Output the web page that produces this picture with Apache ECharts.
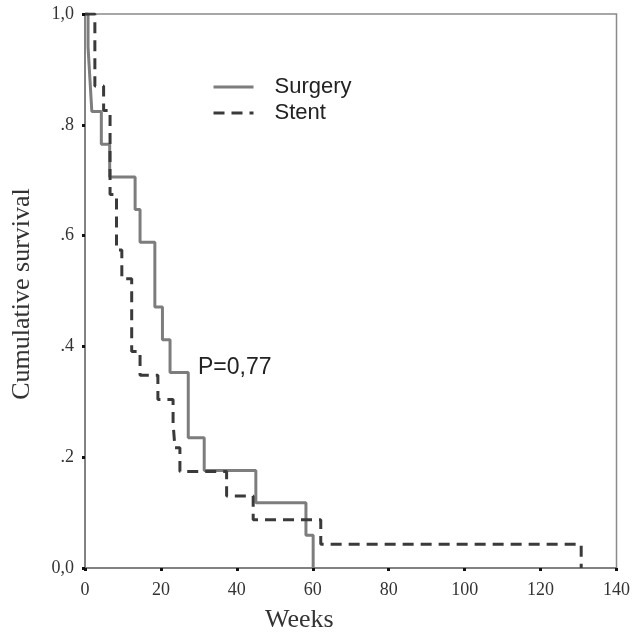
<!DOCTYPE html>
<html>
<head>
<meta charset="utf-8">
<script src="https://cdn.jsdelivr.net/npm/echarts@6/dist/echarts.min.js"></script>
<style>
  html, body { margin: 0; padding: 0; background: #fff; }
  #chart { width: 633px; height: 633px; }
</style>
</head>
<body>
<div id="chart"></div>
<script>
// Kaplan-Meier steps: [week, survival after the drop]
const surgeryWeeks = [0, 0.8, 1.3, 1.8, 4.3, 6.5, 13.2, 14.5, 18.4, 20.4, 22.4, 27.2, 31.4, 45.0, 58.2, 60.1]
const surgerySurv  = [1, 0.941, 0.882, 0.824, 0.765, 0.706, 0.647, 0.588, 0.471, 0.412, 0.353, 0.235, 0.176, 0.118, 0.059, 0]

const stentWeeks = [0, 2.6, 4.9, 6.6, 8.3, 9.7, 12.3, 14.5, 19.2, 23.2, 23.7, 25.0, 37.3, 44.3, 62.1, 130.7]
const stentSurv  = [1, 0.870, 0.826, 0.674, 0.574, 0.522, 0.391, 0.348, 0.304, 0.261, 0.217, 0.174, 0.130, 0.087, 0.043, 0]

const yTickLabels = { '0': '0,0', '0.2': '.2', '0.4': '.4', '0.6': '.6', '0.8': '.8', '1': '1,0' }

const c = echarts.init(document.getElementById('chart'))
const serif = '"Liberation Serif", "Times New Roman", serif'
const sans = '"Liberation Sans", Arial, sans-serif'

c.setOption({
  animation: false,
  grid: { left: 85, right: 16, top: 14, bottom: 65, show: true, borderColor: '#8a8a8a', borderWidth: 1.5 },
  legend: {
    orient: 'vertical', left: 207, top: 71, itemWidth: 40, itemHeight: 14, itemGap: 4,
    itemStyle: { opacity: 0 },
    lineStyle: { width: 3 },
    textStyle: { fontFamily: sans, fontSize: 22, lineHeight: 22, color: '#222', padding: [0, 0, 0, 16] },
    data: ['Surgery', 'Stent']
  },
  xAxis: {
    type: 'value', min: 0, max: 140, interval: 20,
    axisLine: { lineStyle: { color: '#777', width: 1.5 } },
    axisTick: { length: 3, lineStyle: { color: '#111', width: 3 } },
    axisLabel: { fontFamily: serif, fontSize: 18, color: '#333', margin: 13 },
    splitLine: { show: false }
  },
  yAxis: {
    type: 'value', min: 0, max: 1, interval: 0.2,
    axisLine: { show: true, lineStyle: { color: '#777', width: 1.5 } },
    axisTick: { show: true, length: 3, lineStyle: { color: '#111', width: 3 } },
    axisLabel: { fontFamily: serif, fontSize: 18, color: '#333', margin: 11,
      formatter: v => yTickLabels[String(+v.toFixed(1))] },
    splitLine: { show: false }
  },
  graphic: [
    { type: 'text', left: 198, top: 356, style: { text: 'P=0,77', font: '23px ' + sans, fill: '#222' } },
    { type: 'text', left: 265, top: 607, style: { text: 'Weeks', font: '26px ' + serif, fill: '#333' } },
    { type: 'text', x: 22, y: 294, rotation: Math.PI / 2,
      style: { text: 'Cumulative survival', font: '26px ' + serif, fill: '#333', align: 'center', verticalAlign: 'middle' } }
  ],
  series: [
    { name: 'Surgery', type: 'line', step: 'end', symbol: 'none', z: 2,
      data: surgeryWeeks.map((w, i) => [w, surgerySurv[i]]),
      lineStyle: { color: '#7d7d7d', width: 3 }, itemStyle: { color: '#7d7d7d' } },
    { name: 'Stent', type: 'line', step: 'end', symbol: 'none', z: 3,
      data: stentWeeks.map((w, i) => [w, stentSurv[i]]),
      lineStyle: { color: '#3a3a3a', width: 3, type: [11, 7] }, itemStyle: { color: '#3a3a3a' } }
  ]
})
</script>
</body>
</html>
